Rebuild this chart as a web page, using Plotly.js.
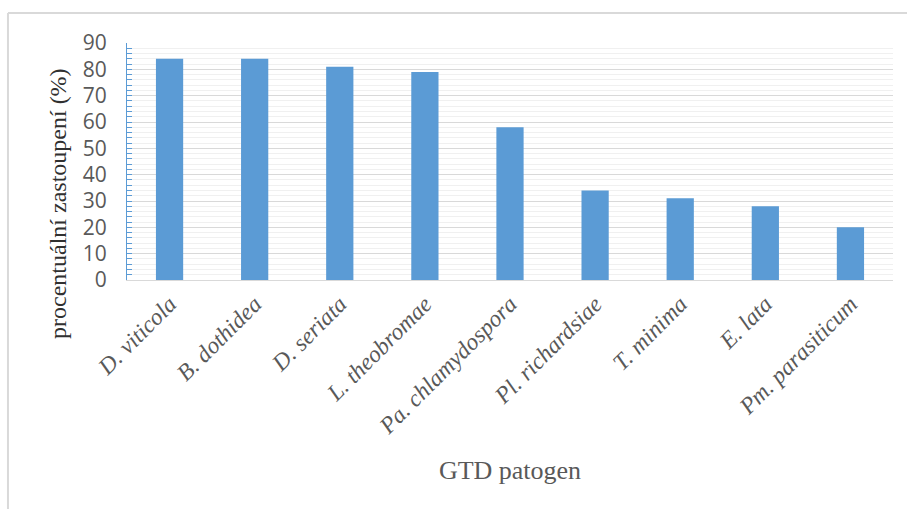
<!DOCTYPE html>
<html>
<head>
<meta charset="utf-8">
<script src="https://cdn.plot.ly/plotly-3.0.1.min.js"></script>
<style>
  html, body { margin: 0; padding: 0; background: #ffffff; }
  #chart { width: 907px; height: 509px; }
</style>
</head>
<body>
<div id="chart"></div>
<script>
const categories = ["D. viticola", "B. dothidea", "D. seriata", "L. theobromae", "Pa. chlamydospora", "Pl. richardsiae", "T. minima", "E. lata", "Pm. parasiticum"];
const values = [84, 84, 81, 79, 58, 34, 31, 28, 20];
const yTitle = "procentuální zastoupení (%)";
const xTitle = "GTD patogen";

const trace = {
  type: "bar",
  x: categories,
  y: values,
  marker: { color: "#5B9BD5", line: { color: "#5B9BD5", width: 0 } },
  hoverinfo: "x+y"
};

const layout = {
  width: 907,
  height: 509,
  margin: { l: 127, r: 14, t: 43, b: 229 },
  paper_bgcolor: "#ffffff",
  plot_bgcolor: "#ffffff",
  showlegend: false,
  bargap: 0.68,
  xaxis: {
    type: "category",
    tickangle: -45,
    tickfont: { family: "Liberation Serif, Times New Roman, serif", size: 23.5, color: "#595959", style: "italic" },
    showline: true,
    linecolor: "#d9d9d9",
    linewidth: 1,
    ticks: "",
    showgrid: false,
    automargin: false,
    title: {
      text: xTitle,
      font: { family: "Liberation Serif, Times New Roman, serif", size: 26, color: "#595959" },
      standoff: 22
    }
  },
  yaxis: {
    range: [0, 90],
    tickmode: "linear",
    tick0: 0,
    dtick: 10,
    showgrid: true,
    gridcolor: "#d9d9d9",
    gridwidth: 1,
    zeroline: false,
    showline: true,
    linecolor: "#5B9BD5",
    linewidth: 1,
    ticks: "inside",
    ticklen: 5,
    tickcolor: "#5B9BD5",
    tickfont: { family: "Open Sans, Liberation Sans, sans-serif", size: 21, color: "#595959" },
    ticklabelstandoff: 15,
    automargin: false,
    minor: {
      dtick: 2,
      showgrid: true,
      gridcolor: "#f0f0f0",
      gridwidth: 1,
      ticks: "inside",
      ticklen: 5,
      tickcolor: "#5B9BD5"
    }
  },
  annotations: [{
    text: yTitle,
    xref: "paper", yref: "paper",
    x: -0.0901, y: 0.325,
    xanchor: "center", yanchor: "middle",
    textangle: -90,
    showarrow: false,
    font: { family: "Liberation Serif, Times New Roman, serif", size: 24, color: "#303030" }
  }],
  shapes: [
    { type: "line", xref: "paper", yref: "paper", x0: -0.1554, x1: 1.0183, y0: 1.1266, y1: 1.1266, line: { color: "#d9d9d9", width: 2 } },
    { type: "line", xref: "paper", yref: "paper", x0: -0.1554, x1: -0.1554, y0: 1.1266, y1: -0.97, line: { color: "#d9d9d9", width: 2 } }
  ]
};

Plotly.newPlot("chart", [trace], layout, { displayModeBar: false, staticPlot: true });
</script>
</body>
</html>
